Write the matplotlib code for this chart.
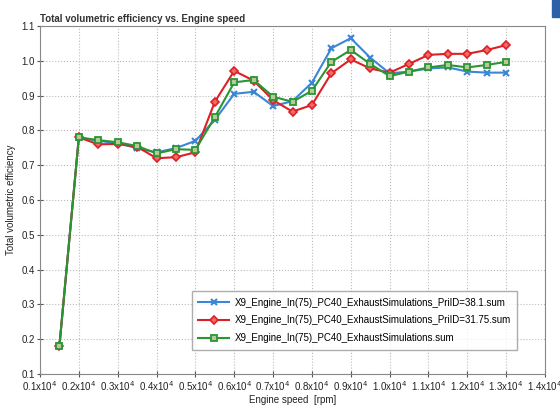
import matplotlib.pyplot as plt
from matplotlib.patches import Rectangle
from matplotlib.ticker import FuncFormatter, MultipleLocator

plt.rcParams["font.family"] = ["Liberation Sans", "DejaVu Sans"]

# engine speed points (rpm)
rpm = [1500, 2000, 2500, 3000, 3500, 4000, 4500, 5000, 5500, 6000, 6500, 7000,
       7500, 8000, 8500, 9000, 9500, 10000, 10500, 11000, 11500, 12000, 12500, 13000]

eff_pri381 = [0.181, 0.780, 0.770, 0.763, 0.749, 0.737, 0.749, 0.770, 0.830, 0.905,
              0.911, 0.870, 0.884, 0.937, 1.036, 1.065, 1.009, 0.964, 0.969, 0.978,
              0.981, 0.969, 0.966, 0.966]
eff_pri3175 = [0.181, 0.780, 0.760, 0.761, 0.753, 0.720, 0.723, 0.737, 0.882, 0.971,
               0.943, 0.887, 0.854, 0.873, 0.964, 1.004, 0.978, 0.966, 0.991, 1.017,
               1.020, 1.020, 1.031, 1.045]
eff_base = [0.181, 0.780, 0.772, 0.766, 0.755, 0.734, 0.746, 0.744, 0.838, 0.938,
            0.945, 0.897, 0.882, 0.914, 0.997, 1.031, 0.991, 0.956, 0.969, 0.981,
            0.988, 0.981, 0.988, 0.997]

labels = [
    "X9_Engine_In(75)_PC40_ExhaustSimulations_PriID=38.1.sum",
    "X9_Engine_In(75)_PC40_ExhaustSimulations_PriID=31.75.sum",
    "X9_Engine_In(75)_PC40_ExhaustSimulations.sum",
]

fig = plt.figure(figsize=(5.6, 4.07), dpi=100)
ax = fig.add_axes([40 / 560, 33 / 407, 505 / 560, 348 / 407])

ax.plot(rpm, eff_pri381, color="#3b86d6", lw=1.5, marker="x", ms=5, mew=1.5,
        label=labels[0])
ax.plot(rpm, eff_pri3175, color="#dd1f26", lw=1.5, marker="D", ms=4,
        mfc="#f06a6a", mec="#dd1f26", mew=1.2, label=labels[1])
ax.plot(rpm, eff_base, color="#2a9633", lw=1.5, marker="s", ms=5,
        mfc="#b8c89a", mec="#2a9633", mew=1.3, label=labels[2])

ax.set_xlim(1000, 14000)
ax.set_ylim(0.1, 1.1)
ax.xaxis.set_major_locator(MultipleLocator(1000))
ax.yaxis.set_major_locator(MultipleLocator(0.1))
ax.xaxis.set_major_formatter(FuncFormatter(lambda v, p: f"{v / 1e4:.1f}x10$^4$"))
ax.yaxis.set_major_formatter(FuncFormatter(lambda v, p: f"{v:.1f}"))
ax.tick_params(labelsize=7, colors="#555555", labelcolor="#222222",
               direction="inout", length=4, width=0.8, pad=1.5)

ax.grid(True, linestyle=":", color="#bbbbbb", lw=0.8)
for s in ax.spines.values():
    s.set_color("#888888")

ax.set_xlabel("Engine speed  [rpm]", fontsize=7, color="#222222", labelpad=2)
ax.set_ylabel("Total volumetric efficiency", fontsize=7, color="#222222", labelpad=4)
ax.set_title("Total volumetric efficiency vs. Engine speed", fontsize=7,
             loc="left", fontweight="bold", color="#333333", pad=3)

ax.legend(loc="lower right", bbox_to_anchor=(0.955, 0.055), fontsize=7,
          frameon=True, fancybox=False, edgecolor="#999999",
          handlelength=3.2, handletextpad=0.5, borderpad=0.7, labelspacing=0.8)

fig.patches.append(Rectangle((552 / 560, 390 / 407), 8 / 560, 17 / 407,
                             transform=fig.transFigure, color="#2d5fa8"))

fig.savefig("out.png", dpi=100)
